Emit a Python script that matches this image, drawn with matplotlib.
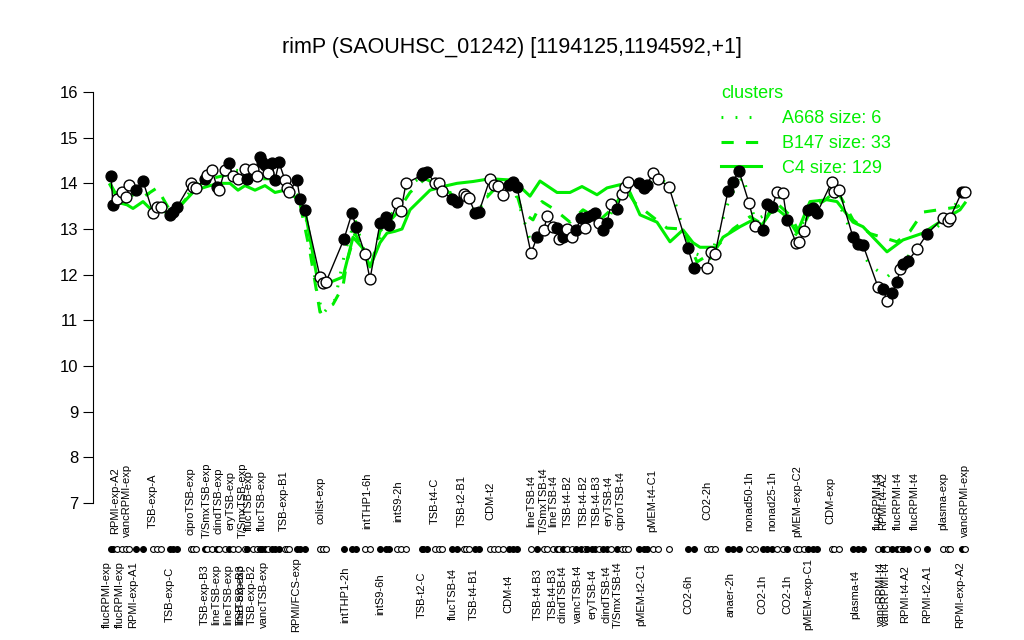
import matplotlib
matplotlib.use("Agg")
import matplotlib.pyplot as plt
from matplotlib.lines import Line2D

plt.rcParams['font.family'] = ['Liberation Sans', 'DejaVu Sans']

title = "rimP (SAOUHSC_01242) [1194125,1194592,+1]"
green = "#00ee00"

# sample positions (arbitrary position units), expression values, filled marker or not
pos = [11, 13, 17, 22, 26, 29, 36, 43, 53, 57, 61, 70, 73, 77, 91, 93, 96,
       105, 107, 112, 117, 119, 125, 129, 133, 138, 145, 147, 153, 157, 160,
       162, 165, 168, 172, 175, 179, 185, 187, 189, 197, 200, 205,
       220, 223, 226, 244, 252, 256, 265, 270, 280, 286, 289, 297, 301, 306,
       322, 323, 327, 335, 339, 342, 352, 357, 364, 366, 369, 375, 379,
       390, 394, 398, 403, 409, 413, 417,
       431, 437, 444, 447, 453, 457, 459, 463, 467, 472, 476, 481, 485, 487,
       492, 495, 499, 503, 507, 511, 517, 522, 525, 528,
       539, 544, 547, 553, 558, 569, 588, 594, 607, 611, 615, 628, 633, 639,
       649, 655, 663, 667, 672, 677, 683, 687, 696, 699, 704, 708, 713, 717,
       732, 734, 739, 753, 758, 763, 778, 783, 787, 792, 797, 800, 803, 808,
       817, 827, 843, 848, 850, 862, 865]
expr = [14.17, 13.53, 13.65, 13.8, 13.7, 13.97, 13.86, 14.05, 13.35, 13.48, 13.49,
        13.31, 13.37, 13.48, 14.0, 13.93, 13.9,
        14.1, 14.18, 14.29, 13.92, 13.86, 14.29, 14.44, 14.15, 14.1, 14.31, 14.1,
        14.31, 14.15, 14.58, 14.46, 14.4, 14.22, 14.44, 14.07, 14.46, 14.07, 13.9,
        13.82, 14.07, 13.66, 13.42,
        11.95, 11.82, 11.84, 12.78, 13.35, 13.05, 12.45, 11.9, 13.13, 13.27, 13.09,
        13.57, 13.4, 14.0,
        14.18, 14.22, 14.25, 14.0, 14.0, 13.83, 13.66, 13.6, 13.77, 13.72, 13.68,
        13.35, 13.37,
        14.1, 13.97, 13.95, 13.75, 13.97, 14.04, 13.92,
        12.47, 12.82, 12.98, 13.29, 13.05, 13.02, 12.78, 12.83, 13.0, 12.83, 12.98,
        13.24, 13.02, 13.26, 13.31, 13.35, 13.13, 12.98, 13.13, 13.55, 13.44, 13.77,
        13.92, 14.04,
        14.0, 13.9, 13.97, 14.22, 14.1, 13.92, 12.58, 12.15, 12.15, 12.5, 12.45,
        13.83, 14.04, 14.27,
        13.57, 13.06, 12.98, 13.55, 13.48, 13.8, 13.78, 13.2, 12.7, 12.72, 12.95,
        13.42, 13.46, 13.35,
        14.04, 13.82, 13.86, 12.82, 12.67, 12.65, 11.73, 11.69, 11.43, 11.6, 11.84,
        12.12, 12.23, 12.3,
        12.56, 12.89, 13.24, 13.18, 13.24, 13.82, 13.8]
filled = [1, 1, 0, 0, 0, 0, 1, 1, 0, 0, 0, 1, 1, 1, 0, 0, 0,
          1, 0, 0, 1, 0, 0, 1, 0, 0, 0, 1, 0, 0, 1, 1, 1, 0, 1, 1, 1, 0, 0, 0,
          1, 1, 1,
          0, 0, 0, 1, 1, 1, 0, 0, 1, 1, 1, 0, 0, 0,
          1, 1, 1, 0, 0, 0, 1, 1, 0, 0, 0, 1, 1,
          0, 0, 0, 0, 1, 1, 1,
          0, 1, 0, 0, 0, 1, 0, 1, 0, 0, 1, 1, 0, 1, 1, 1, 0, 1, 1, 0, 1, 0, 0, 0,
          1, 1, 1, 0, 0, 0, 1, 1, 0, 0, 0, 1, 1, 1,
          0, 0, 1, 1, 1, 0, 0, 1, 0, 0, 0, 1, 1, 1,
          0, 0, 0, 1, 1, 1, 0, 1, 0, 1, 1, 0, 1, 1,
          0, 1, 0, 0, 0, 1, 0]

# cluster profiles
c4_pos = [10, 20, 27, 33, 43, 50, 60, 70, 80, 95, 110, 120, 130, 138, 145, 155,
          165, 175, 185, 195, 205, 217, 223, 243, 253, 262, 270, 280, 287, 295,
          302, 310, 330, 347, 357, 373, 390, 413, 430, 440, 457, 470, 482, 497,
          507, 520, 530, 540, 557, 570, 583, 593, 600, 617, 623, 640, 653, 662,
          670, 678, 687, 697, 710, 727, 737, 753, 763, 787, 803, 823, 843, 860, 865]
c4_val = [13.97, 13.57, 13.53, 13.45, 13.6, 13.45, 13.4, 13.35, 13.5, 13.85, 13.95,
          14.0, 14.0, 13.85, 13.95, 13.85, 13.95, 13.8, 13.85, 13.7, 13.4, 11.95,
          11.77, 11.95, 12.82, 12.6, 12.17, 12.7, 12.91, 12.95, 13.0, 13.42, 13.85,
          13.95, 14.0, 14.04, 14.1, 14.07, 13.72, 14.05, 13.8, 13.8, 13.93, 13.75,
          13.9, 13.97, 13.8, 13.31, 13.15, 12.72, 12.98, 12.7, 12.6, 12.6, 12.82,
          13.05, 13.2, 13.09, 13.35, 13.42, 13.26, 12.91, 13.6, 13.64, 13.6, 13.15,
          13.05, 12.5, 12.76, 12.91, 13.2, 13.42, 13.57]
b147_pos = [10, 20, 30, 43, 57, 70, 80, 95, 110, 130, 150, 170, 185, 200, 210,
            220, 233, 243, 247, 255, 265, 270, 280, 295, 310, 325, 340, 355, 370,
            387, 400, 413, 422, 433, 442, 455, 470, 483, 500, 515, 525, 535, 550,
            567, 583, 597, 610, 633, 650, 663, 675, 690, 700, 713, 723, 737, 753,
            770, 797, 810, 823, 857, 865]
b147_val = [14.0, 13.6, 13.75, 13.7, 13.9, 13.4, 13.5, 13.9, 14.1, 14.2, 14.1, 14.1,
            13.95, 13.55, 12.5, 11.18, 11.35, 11.75, 12.3, 12.9, 12.5, 12.1, 12.95,
            13.3, 13.8, 14.1, 13.95, 13.7, 13.6, 13.7, 14.0, 14.05, 13.37, 13.2,
            13.6, 13.42, 13.15, 13.42, 13.2, 13.5, 13.9, 13.57, 13.31, 13.02, 13.0,
            12.28, 12.45, 13.0, 13.27, 13.1, 13.6, 13.3, 12.9, 13.53, 13.6, 13.85,
            13.2, 12.9, 12.72, 12.95, 13.37, 13.48, 13.6]
a668_pos = [10, 20, 30, 43, 57, 75, 95, 110, 130, 150, 170, 185, 200, 205, 217,
            223, 235, 245, 255, 270, 285, 298, 306, 325, 340, 360, 377, 395, 413,
            431, 445, 460, 475, 495, 510, 525, 545, 560, 570, 590, 610, 630, 643,
            655, 665, 680, 695, 710, 732, 755, 770, 787, 800, 820, 845, 865]
a668_val = [14.1, 13.7, 13.85, 13.95, 13.45, 13.4, 13.95, 14.15, 14.3, 14.25, 14.3,
            13.95, 13.7, 13.4, 11.6, 11.15, 11.45, 12.5, 13.2, 12.1, 13.15, 13.5,
            13.9, 14.2, 13.9, 13.7, 13.35, 14.0, 13.95, 12.7, 13.0, 12.9, 13.05,
            13.3, 13.3, 13.9, 13.95, 14.1, 13.95, 12.5, 12.35, 13.7, 14.15, 13.2,
            13.3, 13.7, 12.85, 13.4, 13.9, 12.75, 12.2, 11.95, 12.2, 12.7, 13.2,
            13.85]

top_labels = ["RPMI-exp-A2", "vancRPMI-exp", "TSB-exp-A", "ciproTSB-exp",
              "T/SmxTSB-exp", "clindTSB-exp", "eryTSB-exp", "T/SmxTSB-exp",
              "flucTSB-exp", "flucTSB-exp", "TSB-exp-B1", "colist-exp",
              "intTHP1-6h", "intS9-2h", "TSB-t4-C", "TSB-t2-B1", "CDM-t2",
              "lineTSB-t4", "T/SmxTSB-t4", "lineTSB-t4", "TSB-t4-B2", "TSB-t4-B2",
              "TSB-t4-B3", "eryTSB-t4", "ciproTSB-t4", "pMEM-t4-C1", "CO2-2h",
              "nonad50-1h", "nonad25-1h", "pMEM-exp-C2", "CDM-exp", "flucRPMI-t4",
              "RPMI-t4-A2", "flucRPMI-t4", "flucRPMI-t4", "plasma-exp",
              "vancRPMI-exp"]
top_label_pos = [15, 27, 53, 91, 107, 118, 131, 143, 149, 162, 184, 220, 267,
                 298, 335, 362, 390, 431, 444, 453, 468, 484, 497, 509, 521, 552,
                 607, 649, 672, 697, 730, 778, 783, 798, 815, 843, 865]
bottom_labels = ["flucRPMI-exp", "flucRPMI-exp", "RPMI-exp-A1", "TSB-exp-C",
                 "TSB-exp-B3", "lineTSB-exp", "lineTSB-exp", "lineTSB-exp",
                 "TSB-exp-B3", "TSB-exp-B2", "vancTSB-exp", "RPMI/FCS-exp",
                 "intTHP1-2h", "intS9-6h", "TSB-t2-C", "flucTSB-t4", "TSB-t4-B1",
                 "CDM-t4", "TSB-t4-B3", "TSB-t4-B3", "clindTSB-t4", "vancTSB-t4",
                 "eryTSB-t4", "clindTSB-t4", "T/SmxTSB-t4", "pMEM-t2-C1", "CO2-6h",
                 "anaer-2h", "CO2-1h", "CO2-1h", "pMEM-exp-C1", "plasma-t4",
                 "vancRPMI-t4", "vancRPMI-t4", "RPMI-t4-A2", "RPMI-t2-A1",
                 "RPMI-exp-A2"]
bottom_label_pos = [7, 20, 33, 70, 105, 116, 128, 140, 141, 152, 164, 196, 245,
                    280, 322, 353, 374, 408, 438, 453, 463, 478, 492, 506, 518,
                    541, 588, 631, 662, 687, 708, 755, 781, 786, 805, 827, 860]

fig = plt.figure(figsize=(10.24, 6.4), dpi=100)
ax = fig.add_axes([93 / 1024, 1 - 503 / 640, (980 - 93) / 1024, 411 / 640])

ax.plot(a668_pos, a668_val, color=green, lw=2.2, ls=(0, (0.6, 4)), zorder=2)
ax.plot(b147_pos, b147_val, color=green, lw=2.2, ls=(0, (4, 4)), zorder=2)
ax.plot(c4_pos, c4_val, color=green, lw=2.2, ls='-', zorder=2)

ax.plot(pos, expr, color='black', lw=1, zorder=3)
for p, v, f in zip(pos, expr, filled):
    fc = 'black' if f else 'white'
    ax.plot(p, v, 'o', ms=7.8, mfc=fc, mec='black', mew=1, zorder=4, clip_on=False)
    ax.plot(p, 6.0, 'o', ms=4.2, mfc=fc, mec='black', mew=0.8, zorder=4, clip_on=False)

for lab, p in zip(top_labels, top_label_pos):
    ax.text(p, 7.05, lab, rotation=90, ha='center', va='center', fontsize=8, clip_on=False)
for lab, p in zip(bottom_labels, bottom_label_pos):
    ax.text(p, 5.0, lab, rotation=90, ha='center', va='center', fontsize=8, clip_on=False)

ax.set_xlim(-7, 880)
ax.set_ylim(7, 16)
ax.set_yticks(range(7, 17))
ax.tick_params(axis='y', labelsize=12, length=7, direction='out')
ax.set_xticks([])
for s in ['top', 'right', 'bottom']:
    ax.spines[s].set_visible(False)
ax.spines['left'].set_bounds(7, 16)

fig.text(0.5, 1 - 47 / 640, title, ha='center', va='center', fontsize=15.5)

handles = [Line2D([], [], color=green, lw=2.2, ls=(0, (0.6, 4))),
           Line2D([], [], color=green, lw=2.2, ls=(0, (4, 4))),
           Line2D([], [], color=green, lw=2.2, ls='-')]
leg = ax.legend(handles, ["A668 size: 6", "B147 size: 33", "C4 size: 129"],
                title="clusters", loc='upper left', frameon=False, fontsize=13,
                title_fontsize=13, labelcolor=green, handlelength=2.2,
                handletextpad=1.2, labelspacing=0.42, borderpad=0,
                bbox_to_anchor=(712 / 1024, 1 - 76 / 640),
                bbox_transform=fig.transFigure)
leg.get_title().set_color(green)
leg._legend_box.align = "left"
leg._legend_box.sep = 6
leg.set_zorder(1)

fig.savefig("out.png", dpi=100)
